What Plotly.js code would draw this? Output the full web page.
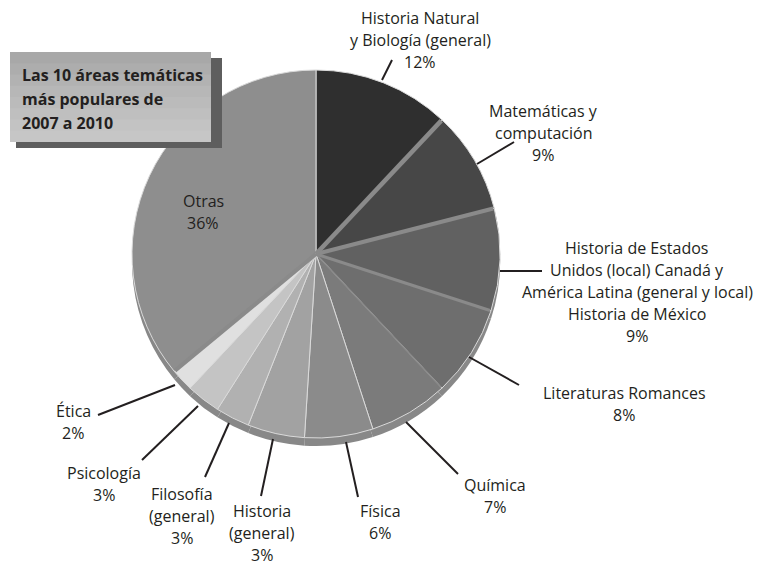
<!DOCTYPE html>
<html>
<head>
<meta charset="utf-8">
<script src="https://cdn.plot.ly/plotly-3.0.1.min.js"></script>
<style>html,body{margin:0;padding:0;background:#fff;}#chart{width:759px;height:567px;}</style>
</head>
<body>
<div id="chart"></div>
<script>
// ---- data ----
var categories = [
  "Historia Natural|y Biología (general)",
  "Matemáticas y|computación",
  "Historia de Estados|Unidos (local) Canadá y|América Latina (general y local)|Historia de México",
  "Literaturas Romances",
  "Química",
  "Física",
  "Historia|(general)",
  "Filosofía|(general)",
  "Psicología",
  "Ética",
  "Otras"
];
var sliceValues = [12, 9, 9, 8, 7, 6, 5, 3, 3, 2, 36];
var pctLabels = ["12%", "9%", "9%", "8%", "7%", "6%", "3%", "3%", "3%", "2%", "36%"];
var sliceColors = ["#2f2f2f", "#474747", "#616161", "#6e6e6e", "#7b7b7b", "#8b8b8b",
                   "#a2a2a2", "#b1b1b1", "#c4c4c4", "#e0e0e0", "#8e8e8e"];
// width of the grey separator drawn after each slice (0 = thin light line only)
var separatorWidth = [4.5, 4, 3, 1.5, 0, 0, 0, 0, 0, 4, 0];
var titleLines = ["Las 10 áreas temáticas", "más populares de", "2007 a 2010"];

// ---- layout helpers (pixel -> paper) ----
var W = 759, H = 567;
function px(x){ return x / W; }
function py(y){ return 1 - y / H; }

var cx = 316, cy = 254, R = 184;
function dom(dy){
  return {x: [px(cx - R), px(cx + R)], y: [py(cy + dy + R), py(cy + dy - R)]};
}
var labels = categories.map(function(c){ return c.replace(/\|/g, " "); });
var rimColors = sliceValues.map(function(){ return "#888888"; });

function basePie(dy, colors, line){
  return {type: "pie", values: sliceValues, labels: labels, sort: false, direction: "clockwise",
    rotation: 0, domain: dom(dy), textinfo: "none", hoverinfo: "skip",
    marker: {colors: colors, line: line}, showlegend: false};
}
var rimLow = basePie(8, rimColors, {color: "#888888", width: 0});
var pie = basePie(0, sliceColors, {color: "#dadada", width: 1});

// label placement (text centres in px) and leader lines
var labelPos = [
  [420, 40], [543, 133], [637, 292], [624, 404], [495, 496], [380, 522],
  [262, 533], [182, 516], [104, 484], [73, 422], [203, 212]
];
var leaders = [
  [392, 60, 382, 80], [477, 164, 514, 142], [500, 271, 542, 271], [469, 357, 519, 385],
  [406, 422, 458, 474], [346, 442, 358, 497], [273, 439, 261, 496], [229, 423, 205, 477],
  [198, 406, 142, 460], [175, 385, 98, 415], null
];

var annotations = [];
var LH = 22;
categories.forEach(function(c, i){
  var lines = c.split("|").concat([pctLabels[i]]);
  var n = lines.length;
  lines.forEach(function(t, k){
    annotations.push({
      xref: "paper", yref: "paper", x: px(labelPos[i][0]),
      y: py(labelPos[i][1] + (k - (n - 1) / 2) * LH),
      xanchor: "center", yanchor: "middle", showarrow: false, text: t,
      font: {family: "Open Sans, sans-serif", size: 16, color: "#231f20"}
    });
  });
});
titleLines.forEach(function(t, k){
  annotations.push({
    xref: "paper", yref: "paper", x: px(20), y: py(75 + k * 24), xanchor: "left", yanchor: "middle",
    showarrow: false, text: "<b>" + t + "</b>",
    font: {family: "Open Sans, sans-serif", size: 16, color: "#231f20"}
  });
});

var shapes = [];
// grey separators along slice boundaries, angles derived from the data
var total = sliceValues.reduce(function(a, b){ return a + b; }, 0);
var cum = 0;
sliceValues.forEach(function(v, i){
  cum += v;
  var w = separatorWidth[i];
  if (!w) return;
  var ang = cum / total * 2 * Math.PI; // clockwise from 12 o'clock
  var r = R - 1;
  shapes.push({type: "line", xref: "paper", yref: "paper",
    x0: px(cx), y0: py(cy), x1: px(cx + r * Math.sin(ang)), y1: py(cy - r * Math.cos(ang)),
    line: {color: "#8a8a8a", width: w}, layer: "above"});
});
leaders.forEach(function(l){
  if (!l) return;
  shapes.push({type: "line", xref: "paper", yref: "paper", x0: px(l[0]), y0: py(l[1]),
    x1: px(l[2]), y1: py(l[3]), line: {color: "#231f20", width: 2}});
});
// title box shadow + box (banded to suggest a gradient)
shapes.push({type: "rect", xref: "paper", yref: "paper", x0: px(16), x1: px(222), y0: py(148), y1: py(58),
  fillcolor: "#5e5e5e", line: {width: 0}, layer: "above"});
var bands = ["#a8a8a8", "#adadad", "#b2b2b2", "#b7b7b7", "#bbbbbb", "#bfbfbf", "#c3c3c3", "#c6c6c6"];
var by0 = 52, by1 = 142, bh = (by1 - by0) / bands.length;
bands.forEach(function(col, k){
  var bot = (k === bands.length - 1) ? by1 : by0 + (k + 1) * bh + 1.5;
  shapes.push({type: "rect", xref: "paper", yref: "paper", x0: px(10), x1: px(211),
    y0: py(bot), y1: py(by0 + k * bh), fillcolor: col, line: {width: 0}, layer: "above"});
});

var layout = {
  width: W, height: H, margin: {l: 0, r: 0, t: 0, b: 0},
  paper_bgcolor: "#ffffff", plot_bgcolor: "#ffffff",
  showlegend: false, shapes: shapes, annotations: annotations
};
Plotly.newPlot("chart", [rimLow, pie], layout, {displayModeBar: false, staticPlot: true});
</script>
</body>
</html>
